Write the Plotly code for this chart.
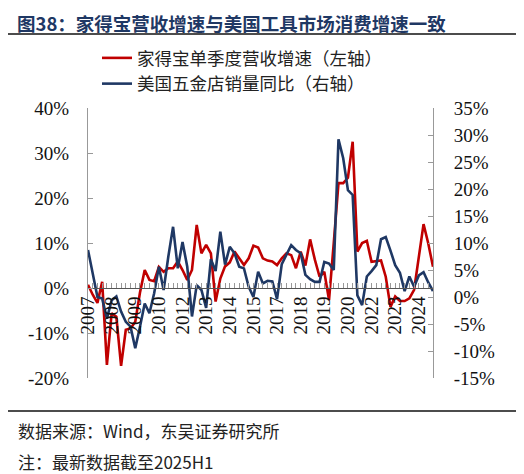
import plotly.graph_objects as go

years = list(range(2007, 2026))
quarters = [f"{y}Q{q}" for y in years for q in range(1, 5)][:74]  # 2007Q1 .. 2025Q2

hd_rev_growth = [0.7, -1.5, -3.3, 1.4, -17.1, -5.6, -6.4, -17.3, -9.3, -9.0,
                 -7.5, -1.0, 4.0, 1.8, 1.5, 4.7, 3.6, 4.4, 4.4, 5.9,
                 4.0, 1.8, 4.0, 14.0, 7.7, 9.6, 7.7, -3.0, 2.1, 4.8,
                 5.7, 8.1, 6.6, 5.1, 6.6, 9.4, 9.0, 6.6, 6.1, 5.9,
                 5.1, 6.6, 7.7, 7.3, 4.4, 8.1, 5.0, 10.8, 6.3, 2.5,
                 3.6, -2.7, 10.0, 23.3, 23.3, 24.5, 32.5, 8.1, 10.0, 10.5,
                 5.8, 6.0, 6.1, 2.5, -4.2, -1.9, -2.9, -2.9, -2.3, -0.4,
                 7.0, 14.2, 9.9, 4.7]

hardware_sales_yoy = [8.7, 4.1, 0.0, -0.3, -4.0, -0.6, 0.1, -2.7, -4.6, -5.5,
                      -9.5, -5.5, -1.2, -3.0, 0.7, 5.6, 1.3, 7.5, 13.0, 5.3,
                      10.2, 5.6, -3.6, 2.2, 1.3, -2.0, 7.0, 4.8, 12.1, 6.0,
                      9.3, 8.1, 5.6, 5.3, 1.9, 0.0, 4.7, 2.5, 3.0, 2.9,
                      -0.4, 6.1, 8.0, 9.6, 8.7, 8.1, 4.1, 3.3, 2.8, 2.8,
                      6.5, 6.2, 5.0, 29.2, 25.7, 19.8, 18.9, 0.3, -1.5, 3.8,
                      4.8, 5.9, 10.7, 11.1, 8.6, 5.9, 4.5, 1.1, 3.8, 1.9,
                      4.0, 4.6, 2.7, 1.1]

tick_text = [q[:4] if i % 5 == 0 else "" for i, q in enumerate(quarters)]
left_ticks = [-20, -10, 0, 10, 20, 30, 40]
right_ticks = [-15, -10, -5, 0, 5, 10, 15, 20, 25, 30, 35]

series_names = ["家得宝单季度营收增速（左轴）", "美国五金店销量同比（右轴）"]
title_text = "图38：家得宝营收增速与美国工具市场消费增速一致"
source_text = "数据来源：Wind，东吴证券研究所"
note_text = "注：最新数据截至2025H1"

RED = "#C00000"
BLUE = "#1F3864"
SERIF = "Liberation Serif, Times New Roman, Noto Sans CJK SC, serif"
CJK = "Noto Sans CJK SC, sans-serif"

OFF = 8  # page body margin
W, H = 524 - OFF, 474 - OFF
L, T = 88 - OFF, 108 - OFF
pw, ph = 345, 270
R, B = W - L - pw, H - T - ph


def px_x(x):  # x in reference-picture pixels -> paper fraction
    return (x - OFF - L) / pw


def px_y(y):
    return (T + ph - (y - OFF)) / ph


fig = go.Figure()
fig.add_trace(go.Scatter(x=quarters, y=hd_rev_growth, name=series_names[0],
                         mode="lines", line=dict(color=RED, width=2.6),
                         xaxis="x", yaxis="y"))
fig.add_trace(go.Scatter(x=quarters, y=hardware_sales_yoy, name=series_names[1],
                         mode="lines", line=dict(color=BLUE, width=2.6),
                         xaxis="x", yaxis="y2"))

fig.update_layout(
    width=W, height=H,
    margin=dict(l=L, r=R, t=T, b=B, pad=0),
    paper_bgcolor="white", plot_bgcolor="white",
    showlegend=True,
    legend=dict(x=px_x(97), y=px_y(40), xanchor="left", yanchor="top",
                orientation="v", font=dict(family=CJK, size=17.5, color="#222"),
                bgcolor="rgba(0,0,0,0)", borderwidth=0, tracegroupgap=0),
    xaxis=dict(type="category", categoryorder="array", categoryarray=quarters,
               range=[0, len(quarters) - 1],
               anchor="free", position=20 / 60,
               tickmode="array", tickvals=quarters, ticktext=tick_text,
               tickangle=-90, ticks="inside", ticklen=5, tickcolor="#999",
               showline=True, linecolor="#555", linewidth=1,
               showgrid=False, zeroline=False,
               tickfont=dict(family=SERIF, size=19, color="#111")),
    yaxis=dict(range=[-20, 40], tickmode="array", tickvals=left_ticks,
               ticktext=[f"{v}%" for v in left_ticks],
               ticks="inside", ticklen=5, tickcolor="#999",
               showline=True, linecolor="#999", linewidth=1,
               showgrid=False, zeroline=False, ticklabelstandoff=14,
               tickfont=dict(family=SERIF, size=19, color="#111")),
    yaxis2=dict(range=[-15, 35], overlaying="y", side="right",
                tickmode="array", tickvals=right_ticks,
                ticktext=[f"{v}%" for v in right_ticks],
                ticks="inside", ticklen=5, tickcolor="#999",
                showline=True, linecolor="#999", linewidth=1,
                showgrid=False, zeroline=False, ticklabelstandoff=16,
                tickfont=dict(family=SERIF, size=19, color="#111")),
)

fig.add_annotation(text=title_text, xref="paper", yref="paper",
                   x=px_x(16), y=px_y(OFF + 0.5), xanchor="left", yanchor="top",
                   showarrow=False, borderpad=0,
                   font=dict(family=CJK, size=18.5, color="#1F3864", weight="bold"))
fig.add_annotation(text=source_text, xref="paper", yref="paper",
                   x=px_x(16), y=px_y(430), xanchor="left", yanchor="middle",
                   showarrow=False, font=dict(family=CJK, size=17, color="#222"))
fig.add_annotation(text=note_text, xref="paper", yref="paper",
                   x=px_x(16), y=px_y(461), xanchor="left", yanchor="middle",
                   showarrow=False, font=dict(family=CJK, size=17, color="#222"))

for yy in (34, 411):
    fig.add_shape(type="line", xref="paper", yref="paper",
                  x0=px_x(OFF), x1=px_x(517), y0=px_y(yy), y1=px_y(yy),
                  line=dict(color="#111", width=1.6))

fig.write_html("out.html")
